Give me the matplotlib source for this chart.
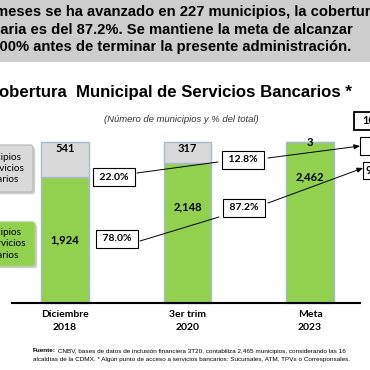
import matplotlib.pyplot as plt
import matplotlib.transforms as mtrans
from matplotlib.patches import Rectangle, FancyBboxPatch

periodos = ["Diciembre\n2018", "3er trim\n2020", "Meta\n2023"]
sin_servicio = [541, 317, 3]
con_servicio = [1924, 2148, 2462]
pct_sin = [22.0, 12.8, 0.1]
pct_con = [78.0, 87.2, 99.9]

encabezado = ["meses se ha avanzado en 227 municipios, la cobertura",
              "bancaria es del 87.2%. Se mantiene la meta de alcanzar",
              "el 100% antes de terminar la presente administración."]
titulo = "Cobertura  Municipal de Servicios Bancarios *"
subtitulo = "(Número de municipios y % del total)"
fuente_1 = "CNBV, bases de datos de inclusión financiera 3T20, contabiliza 2,465 municipios, considerando las 16"
fuente_2 = "alcaldías de la CDMX. * Algún punto de acceso a servicios bancarios: Sucursales, ATM, TPVs o Corresponsales."

VERDE = "#92d050"
GRIS = "#d9d9d9"
BORDE = "#a7bacd"
W = H = 370

def fx(x):
    return x / W

def fy(y):
    return 1 - y / H

fig = plt.figure(figsize=(3.7, 3.7), dpi=100)
fig.patch.set_facecolor("white")
arial = "Liberation Sans"
calibri = "Lato"

# franja gris de arriba
fig.add_artist(Rectangle((0, fy(62)), 1, 62 / H, transform=fig.transFigure,
                         fc="#cdcdcd", ec="none", zorder=0))
for y, linea, xr in zip([12, 30, 47], encabezado, [379, 353, 351]):
    fig.text(fx(xr), fy(y), linea, ha="right", va="center", family=arial,
             weight="bold", fontsize=10.6, color="black")

fig.text(fx(352), fy(93), titulo, ha="right", va="center", family=arial,
         weight="bold", fontsize=12.1)
fig.text(fx(181), fy(120), subtitulo, ha="center", va="center", family=arial,
         style="italic", fontsize=6.8, color="#333333")

# barras
ax = fig.add_axes([0, 0, 1, 1])
ax.set_axis_off()
total = [a + b for a, b in zip(sin_servicio, con_servicio)]
base_px, top_px = 303, 142
unid_px = max(total) / (base_px - top_px)
ax.set_xlim(-65 / 122.5, (W - 65) / 122.5)
ax.set_ylim(-(H - base_px) * unid_px, base_px * unid_px)
xs = list(range(len(periodos)))
ax.bar(xs, con_servicio, width=0.384, color=VERDE, edgecolor=BORDE, lw=1)
ax.bar(xs, sin_servicio, bottom=con_servicio, width=0.384, color=GRIS,
       edgecolor=BORDE, lw=1)
ax.axhline(0, xmin=fx(12), xmax=fx(360), color="black", lw=1.5)

blend = mtrans.blended_transform_factory(ax.transData, fig.transFigure)
y_con = [240, 207, 177]
for i in xs:
    yg = max(con_servicio[i] + sin_servicio[i] / 2, total[i] - 6 * unid_px)
    ax.text(i, yg, f"{sin_servicio[i]:,}", ha="center", va="center",
            family=calibri, weight="bold", fontsize=8)
    ax.text(i, fy(y_con[i]), f"{con_servicio[i]:,}", ha="center", va="center",
            family=calibri, weight="bold", fontsize=8, transform=blend)
    ax.text(i, fy(321), periodos[i], ha="center", va="center", family=calibri,
            weight="bold", fontsize=7.5, linespacing=1.5, transform=blend)

# leyenda a la izquierda (cortada)
for (y0, y1, x1, col, ec, txt) in [(145, 192, 33, GRIS, "#bdbdbd", "Municipios\nsin servicios\nbancarios"),
                                  (222, 266, 35, VERDE, "#a9d27a", "Municipios\ncon servicios\nbancarios")]:
    fig.add_artist(FancyBboxPatch((fx(-60) + 0.006, fy(y1) - 0.006), fx(x1 + 60), (y1 - y0) / H,
                                  boxstyle="round,pad=0,rounding_size=0.008",
                                  transform=fig.transFigure, fc="#b0b0b0", ec="none", alpha=0.6))
    fig.add_artist(FancyBboxPatch((fx(-60), fy(y1)), fx(x1 + 60), (y1 - y0) / H,
                                  boxstyle="round,pad=0,rounding_size=0.008",
                                  transform=fig.transFigure, fc=col, ec=ec, lw=1))
    fig.text(fx(-3), fy((y0 + y1) / 2), txt, ha="center", va="center",
             family=calibri, fontsize=7.2, linespacing=1.35)

# cajas de porcentaje
caja = dict(boxstyle="square,pad=0.42", fc="white", ec="black", lw=0.8)
pos_sin = [(114, 177), (243, 160)]
pos_con = [(117, 239), (244, 208)]
for (x, y), p in zip(pos_sin, pct_sin[:2]):
    fig.text(fx(x), fy(y), f" {p:.1f}% ", ha="center", va="center", family=calibri,
             weight="bold", fontsize=7.5, bbox=caja, zorder=5)
for (x, y), p in zip(pos_con, pct_con[:2]):
    fig.text(fx(x), fy(y), f" {p:.1f}% ", ha="center", va="center", family=calibri,
             weight="bold", fontsize=7.5, bbox=caja, zorder=5)

# cajas de la derecha (cortadas por el borde)
for (x0, y0, y1, lw, txt, xt) in [(354, 112, 130, 1.3, "100%", 362),
                                  (360, 137, 155, 0.8, f"{pct_sin[2]:.1f}%", 371),
                                  (363, 162, 179, 0.8, f"{pct_con[2]:.1f}%", 366)]:
    fig.add_artist(Rectangle((fx(x0), fy(y1)), fx(60), (y1 - y0) / H, transform=fig.transFigure,
                             fc="white", ec="black", lw=lw, zorder=5))
    fig.text(fx(xt), fy((y0 + y1) / 2), txt, ha="left", va="center", family=calibri,
             weight="bold", fontsize=8, zorder=6)

# lineas de conexion
lineas = [((137, 173), (218, 162), False), ((268, 158), (360, 146), True),
          ((140, 241), (219, 217), False), ((268, 203), (363, 168), True)]
for (a, b, flecha) in lineas:
    ax.annotate("", xy=(fx(b[0]), fy(b[1])), xytext=(fx(a[0]), fy(a[1])),
                xycoords="figure fraction", textcoords="figure fraction",
                arrowprops=dict(arrowstyle="-|>,head_length=0.35,head_width=0.15" if flecha else "-",
                                color="black", lw=0.7, shrinkA=0, shrinkB=0), zorder=4)

# fuente
t = fig.text(fx(33), fy(351), "Fuente:", ha="left", va="center", family=arial,
             weight="bold", fontsize=4.6)
ax.annotate(" " + fuente_1, xy=(1, 0.5), xycoords=t, ha="left", va="center",
            family=arial, fontsize=4.6)
fig.text(fx(33), fy(360), fuente_2, ha="left", va="center", family=arial, fontsize=4.6)

fig.savefig("out.png", dpi=100)
